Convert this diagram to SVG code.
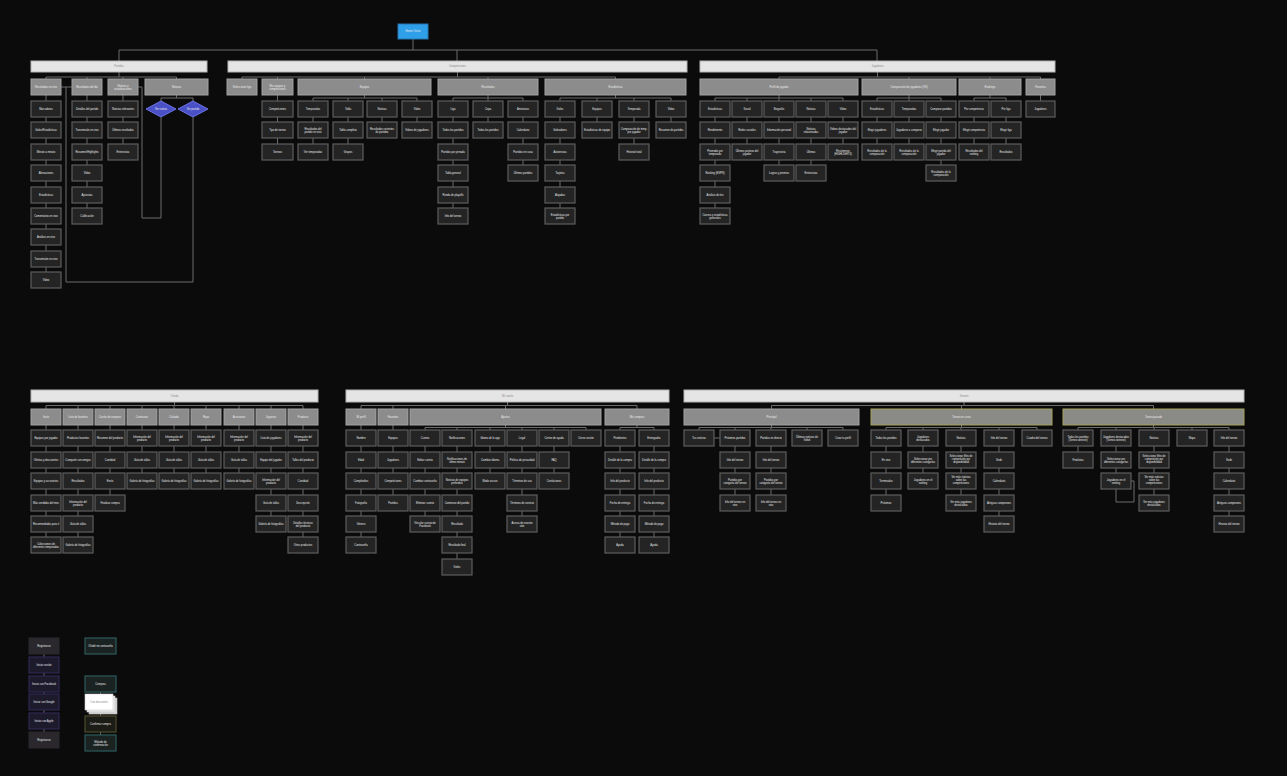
<svg xmlns="http://www.w3.org/2000/svg" width="1287" height="776" viewBox="0 0 1287 776">
<style>
.n{fill:#242424;stroke:#5e5e5e;stroke-width:1.2}
.s{fill:#8c8c8c;stroke:#a2a2a2;stroke-width:1}
.o{fill:#8a8a86;stroke:#a3a35e;stroke-width:1}
.b{fill:#e5e5e5;stroke:#b5b5b5;stroke-width:1}
.d{fill:#4a51c6;stroke:#6b71e2;stroke-width:1}
.t{font-family:"Liberation Sans",Arial,sans-serif;font-size:2.6px;fill:#ececec;text-anchor:middle}
.tb{font-family:"Liberation Sans",Arial,sans-serif;font-size:2.6px;fill:#8a8a8a;text-anchor:middle}
.c{fill:none;stroke:#6c6c6c;stroke-width:1}
.lg1{fill:#2a282c;stroke:#2a282c;stroke-width:1}
.lg2{fill:#1d1a2c;stroke:#2f2752;stroke-width:1.2}
.lt{fill:#1b2222;stroke:#2c5a5a;stroke-width:1.2}
.lo{fill:#1c1c16;stroke:#4c4c2c;stroke-width:1.2}
</style>
<rect x="0" y="0" width="1287" height="776" fill="#0b0b0b"/>
<g id="connectors">
<path class="c" d="M413 39V50M119 50H877M119 50V61M457 50V61M877 50V61"/>
<path class="c" d="M119 72V77M46 77H176.5M46 77V79M87 77V79M123 77V79M176.5 77V79M46 95V272M87 95V208M123 95V144M176.5 95V98M161 98H193M161 98V101M193 98V101M161 117V218H142V87H138M193 117V282H66V87M61 87H72"/>
<path class="c" d="M457.5 72V77M242 77H615.5M242 77V79M277.5 77V79M364.5 77V79M488 77V79M615.5 77V79M277.5 95V144M364.5 95V98M313 98H417M313 98V144M348 98V144M382 98V122M417 98V122M488 95V98M453 98H523M453 98V208M488 98V122M523 98V165M615.5 95V98M560 98H671M560 98V208M597 98V122M634 98V144M671 98V122"/>
<path class="c" d="M877.5 72V77M779 77H1040.5M779 77V79M909 77V79M990 77V79M1040.5 77V79M779 95V98M715 98H843M715 98V208M747 98V144M779 98V165M811 98V165M843 98V144M909 95V98M877 98H941M877 98V144M909 98V144M941 98V165M990 95V98M974 98H1006M974 98V144M1006 98V144M1040.5 95V101"/>
<path class="c" d="M174.5 402V405.5M46 405.5H303M46 405.5V409M78 405.5V409M110 405.5V409M142 405.5V409M174 405.5V409M206 405.5V409M239 405.5V409M271 405.5V409M303 405.5V409M46 425V537M78 425V537M110 425V495M142 425V473M174 425V473M206 425V473M239 425V473M271 425V516M303 425V537"/>
<path class="c" d="M507.5 402V405.5M361 405.5H637M361 405.5V409M393 405.5V409M505.5 405.5V409M637 405.5V409M361 425V537M393 425V495M505.5 425V427.5M425 427.5H586M425 427.5V516M457 427.5V559M490 427.5V473M522 427.5V516M554 427.5V473M586 427.5V430M637 425V427.5M620 427.5H654M620 427.5V537M654 427.5V537"/>
<path class="c" d="M964 402V405.5M771.5 405.5H1153.5M771.5 405.5V409M961.5 405.5V409M1153.5 405.5V409M771.5 425V427.5M699 427.5H843M699 427.5V430M735 427.5V495M771 427.5V495M807 427.5V430M843 427.5V430M714 438H720M961.5 425V427.5M886 427.5H1037M886 427.5V495M923 427.5V473M961 427.5V495M999 427.5V516M1037 427.5V430M1153.5 425V427.5M1078 427.5H1229M1078 427.5V452M1116 427.5V473M1154 427.5V495M1192 427.5V430M1229 427.5V516M1131 481H1134V502H1116V489"/>
<path class="c" d="M44 654V732M100.5 692V735"/>
</g>
<g id="root"><rect x="398" y="24" width="30" height="15" fill="#2f9fea" stroke="#2676b0" stroke-width="1"/><text class="t" x="413" y="32.4">Home / Inicio</text></g>
<g id="bar1"><rect class="b" x="31" y="61" width="176" height="11"/><text class="tb" x="119" y="67.4">Partidos</text></g>
<g id="bar2"><rect class="b" x="228" y="61" width="459" height="11"/><text class="tb" x="457.5" y="67.4">Competiciones</text></g>
<g id="bar3"><rect class="b" x="700" y="61" width="355" height="11"/><text class="tb" x="877.5" y="67.4">Jugadores</text></g>
<g id="s1a"><rect class="s" x="31" y="79" width="30" height="16"/><text class="t" x="46" y="88.4">Resultados en vivo</text></g>
<g id="s1b"><rect class="s" x="72" y="79" width="30" height="16"/><text class="t" x="87" y="88.4">Resultados del día</text></g>
<g id="s1c"><rect class="s" x="108" y="79" width="30" height="16"/><text class="t" x="123" y="86.9">Noticias y<tspan x="123" dy="3.2">actualizaciones</tspan></text></g>
<g id="s1d"><rect class="s" x="145" y="79" width="63" height="16"/><text class="t" x="176.5" y="88.4">Noticias</text></g>
<g id="n1a0"><rect class="n" x="31" y="101" width="30" height="16"/><text class="t" x="46" y="110.4">Marcadores</text></g>
<g id="n1a1"><rect class="n" x="31" y="122" width="30" height="16"/><text class="t" x="46" y="131.4">Goles/Estadísticas</text></g>
<g id="n1a2"><rect class="n" x="31" y="144" width="30" height="16"/><text class="t" x="46" y="153.4">Minuto a minuto</text></g>
<g id="n1a3"><rect class="n" x="31" y="165" width="30" height="16"/><text class="t" x="46" y="174.4">Alineaciones</text></g>
<g id="n1a4"><rect class="n" x="31" y="187" width="30" height="16"/><text class="t" x="46" y="196.4">Estadísticas</text></g>
<g id="n1a5"><rect class="n" x="31" y="208" width="30" height="16"/><text class="t" x="46" y="217.4">Comentarios en vivo</text></g>
<g id="n1a6"><rect class="n" x="31" y="229" width="30" height="16"/><text class="t" x="46" y="238.4">Análisis en vivo</text></g>
<g id="n1a7"><rect class="n" x="31" y="251" width="30" height="16"/><text class="t" x="46" y="260.4">Transmisión en vivo</text></g>
<g id="n1a8"><rect class="n" x="31" y="272" width="30" height="16"/><text class="t" x="46" y="281.4">Video</text></g>
<g id="n1b0"><rect class="n" x="72" y="101" width="30" height="16"/><text class="t" x="87" y="110.4">Detalles del partido</text></g>
<g id="n1b1"><rect class="n" x="72" y="122" width="30" height="16"/><text class="t" x="87" y="131.4">Transmisión en vivo</text></g>
<g id="n1b2"><rect class="n" x="72" y="144" width="30" height="16"/><text class="t" x="87" y="153.4">Resumen/Highlights</text></g>
<g id="n1b3"><rect class="n" x="72" y="165" width="30" height="16"/><text class="t" x="87" y="174.4">Video</text></g>
<g id="n1b4"><rect class="n" x="72" y="187" width="30" height="16"/><text class="t" x="87" y="196.4">Apuestas</text></g>
<g id="n1b5"><rect class="n" x="72" y="208" width="30" height="16"/><text class="t" x="87" y="217.4">Calificación</text></g>
<g id="n1c0"><rect class="n" x="108" y="101" width="30" height="16"/><text class="t" x="123" y="110.4">Noticias relevantes</text></g>
<g id="n1c1"><rect class="n" x="108" y="122" width="30" height="16"/><text class="t" x="123" y="131.4">Últimos resultados</text></g>
<g id="n1c2"><rect class="n" x="108" y="144" width="30" height="16"/><text class="t" x="123" y="153.4">Entrevistas</text></g>
<g id="d1"><polygon class="d" points="146,109 161,101 176,109 161,117"/><text class="t" x="161" y="110">Ver noticia</text></g>
<g id="d2"><polygon class="d" points="178,109 193,101 208,109 193,117"/><text class="t" x="193" y="110">Ver partido</text></g>
<g id="s2a"><rect class="s" x="227" y="79" width="30" height="16"/><text class="t" x="242" y="88.4">Seleccionar liga</text></g>
<g id="s2b"><rect class="s" x="262" y="79" width="31" height="16"/><text class="t" x="277.5" y="86.9">Mis equipos y<tspan x="277.5" dy="3.2">competiciones</tspan></text></g>
<g id="s2c"><rect class="s" x="298" y="79" width="133" height="16"/><text class="t" x="364.5" y="88.4">Equipos</text></g>
<g id="s2d"><rect class="s" x="438" y="79" width="100" height="16"/><text class="t" x="488" y="88.4">Resultados</text></g>
<g id="s2e"><rect class="s" x="545" y="79" width="141" height="16"/><text class="t" x="615.5" y="88.4">Estadísticas</text></g>
<g id="n2b0"><rect class="n" x="262" y="101" width="31" height="16"/><text class="t" x="277.5" y="110.4">Competiciones</text></g>
<g id="n2b1"><rect class="n" x="262" y="122" width="31" height="16"/><text class="t" x="277.5" y="131.4">Tipo de torneo</text></g>
<g id="n2b2"><rect class="n" x="262" y="144" width="31" height="16"/><text class="t" x="277.5" y="153.4">Torneos</text></g>
<g id="n2c00"><rect class="n" x="298" y="101" width="30" height="16"/><text class="t" x="313" y="110.4">Temporadas</text></g>
<g id="n2c01"><rect class="n" x="298" y="122" width="30" height="16"/><text class="t" x="313" y="129.9">Resultados del<tspan x="313" dy="3.2">partido en vivo</tspan></text></g>
<g id="n2c02"><rect class="n" x="298" y="144" width="30" height="16"/><text class="t" x="313" y="153.4">Ver temporadas</text></g>
<g id="n2c10"><rect class="n" x="333" y="101" width="30" height="16"/><text class="t" x="348" y="110.4">Tabla</text></g>
<g id="n2c11"><rect class="n" x="333" y="122" width="30" height="16"/><text class="t" x="348" y="131.4">Tabla completa</text></g>
<g id="n2c12"><rect class="n" x="333" y="144" width="30" height="16"/><text class="t" x="348" y="153.4">Grupos</text></g>
<g id="n2c20"><rect class="n" x="367" y="101" width="30" height="16"/><text class="t" x="382" y="110.4">Noticias</text></g>
<g id="n2c21"><rect class="n" x="367" y="122" width="30" height="16"/><text class="t" x="382" y="129.9">Resultados recientes<tspan x="382" dy="3.2">de partidos</tspan></text></g>
<g id="n2c30"><rect class="n" x="402" y="101" width="30" height="16"/><text class="t" x="417" y="110.4">Video</text></g>
<g id="n2c31"><rect class="n" x="402" y="122" width="30" height="16"/><text class="t" x="417" y="131.4">Videos de jugadores</text></g>
<g id="n2d00"><rect class="n" x="438" y="101" width="30" height="16"/><text class="t" x="453" y="110.4">Liga</text></g>
<g id="n2d01"><rect class="n" x="438" y="122" width="30" height="16"/><text class="t" x="453" y="131.4">Todos los partidos</text></g>
<g id="n2d02"><rect class="n" x="438" y="144" width="30" height="16"/><text class="t" x="453" y="153.4">Partidos por jornada</text></g>
<g id="n2d03"><rect class="n" x="438" y="165" width="30" height="16"/><text class="t" x="453" y="174.4">Tabla general</text></g>
<g id="n2d04"><rect class="n" x="438" y="187" width="30" height="16"/><text class="t" x="453" y="196.4">Ronda de playoffs</text></g>
<g id="n2d05"><rect class="n" x="438" y="208" width="30" height="16"/><text class="t" x="453" y="217.4">Info del torneo</text></g>
<g id="n2d10"><rect class="n" x="473" y="101" width="30" height="16"/><text class="t" x="488" y="110.4">Copa</text></g>
<g id="n2d11"><rect class="n" x="473" y="122" width="30" height="16"/><text class="t" x="488" y="131.4">Todos los partidos</text></g>
<g id="n2d20"><rect class="n" x="508" y="101" width="30" height="16"/><text class="t" x="523" y="110.4">Amistosos</text></g>
<g id="n2d21"><rect class="n" x="508" y="122" width="30" height="16"/><text class="t" x="523" y="131.4">Calendario</text></g>
<g id="n2d22"><rect class="n" x="508" y="144" width="30" height="16"/><text class="t" x="523" y="153.4">Partidos en casa</text></g>
<g id="n2d23"><rect class="n" x="508" y="165" width="30" height="16"/><text class="t" x="523" y="174.4">Últimos partidos</text></g>
<g id="n2e00"><rect class="n" x="545" y="101" width="30" height="16"/><text class="t" x="560" y="110.4">Goles</text></g>
<g id="n2e01"><rect class="n" x="545" y="122" width="30" height="16"/><text class="t" x="560" y="131.4">Goleadores</text></g>
<g id="n2e02"><rect class="n" x="545" y="144" width="30" height="16"/><text class="t" x="560" y="153.4">Asistencias</text></g>
<g id="n2e03"><rect class="n" x="545" y="165" width="30" height="16"/><text class="t" x="560" y="174.4">Tarjetas</text></g>
<g id="n2e04"><rect class="n" x="545" y="187" width="30" height="16"/><text class="t" x="560" y="196.4">Atajadas</text></g>
<g id="n2e05"><rect class="n" x="545" y="208" width="30" height="16"/><text class="t" x="560" y="215.9">Estadísticas por<tspan x="560" dy="3.2">partido</tspan></text></g>
<g id="n2e10"><rect class="n" x="582" y="101" width="30" height="16"/><text class="t" x="597" y="110.4">Equipos</text></g>
<g id="n2e11"><rect class="n" x="582" y="122" width="30" height="16"/><text class="t" x="597" y="131.4">Estadísticas de equipo</text></g>
<g id="n2e20"><rect class="n" x="619" y="101" width="30" height="16"/><text class="t" x="634" y="110.4">Temporada</text></g>
<g id="n2e21"><rect class="n" x="619" y="122" width="30" height="16"/><text class="t" x="634" y="129.9">Comparación de temp.<tspan x="634" dy="3.2">por jugador</tspan></text></g>
<g id="n2e22"><rect class="n" x="619" y="144" width="30" height="16"/><text class="t" x="634" y="153.4">Historial total</text></g>
<g id="n2e30"><rect class="n" x="656" y="101" width="30" height="16"/><text class="t" x="671" y="110.4">Video</text></g>
<g id="n2e31"><rect class="n" x="656" y="122" width="30" height="16"/><text class="t" x="671" y="131.4">Resumen de partidos</text></g>
<g id="s3a"><rect class="s" x="700" y="79" width="158" height="16"/><text class="t" x="779" y="88.4">Perfil de jugador</text></g>
<g id="s3b"><rect class="s" x="862" y="79" width="94" height="16"/><text class="t" x="909" y="88.4">Comparación de jugadores (VS)</text></g>
<g id="s3c"><rect class="s" x="959" y="79" width="62" height="16"/><text class="t" x="990" y="88.4">Rankings</text></g>
<g id="s3d"><rect class="s" x="1026" y="79" width="29" height="16"/><text class="t" x="1040.5" y="88.4">Favoritos</text></g>
<g id="n3a00"><rect class="n" x="700" y="101" width="30" height="16"/><text class="t" x="715" y="110.4">Estadísticas</text></g>
<g id="n3a01"><rect class="n" x="700" y="122" width="30" height="16"/><text class="t" x="715" y="131.4">Rendimiento</text></g>
<g id="n3a02"><rect class="n" x="700" y="144" width="30" height="16"/><text class="t" x="715" y="151.9">Promedio por<tspan x="715" dy="3.2">temporada</tspan></text></g>
<g id="n3a03"><rect class="n" x="700" y="165" width="30" height="16"/><text class="t" x="715" y="174.4">Ranking (ESPN)</text></g>
<g id="n3a04"><rect class="n" x="700" y="187" width="30" height="16"/><text class="t" x="715" y="196.4">Análisis de tiro</text></g>
<g id="n3a05"><rect class="n" x="700" y="208" width="30" height="16"/><text class="t" x="715" y="215.9">Carrera y estadísticas<tspan x="715" dy="3.2">generales</tspan></text></g>
<g id="n3a10"><rect class="n" x="732" y="101" width="30" height="16"/><text class="t" x="747" y="110.4">Social</text></g>
<g id="n3a11"><rect class="n" x="732" y="122" width="30" height="16"/><text class="t" x="747" y="131.4">Redes sociales</text></g>
<g id="n3a12"><rect class="n" x="732" y="144" width="30" height="16"/><text class="t" x="747" y="151.9">Últimos posteos del<tspan x="747" dy="3.2">jugador</tspan></text></g>
<g id="n3a20"><rect class="n" x="764" y="101" width="30" height="16"/><text class="t" x="779" y="110.4">Biografía</text></g>
<g id="n3a21"><rect class="n" x="764" y="122" width="30" height="16"/><text class="t" x="779" y="131.4">Información personal</text></g>
<g id="n3a22"><rect class="n" x="764" y="144" width="30" height="16"/><text class="t" x="779" y="153.4">Trayectoria</text></g>
<g id="n3a23"><rect class="n" x="764" y="165" width="30" height="16"/><text class="t" x="779" y="174.4">Logros y premios</text></g>
<g id="n3a30"><rect class="n" x="796" y="101" width="30" height="16"/><text class="t" x="811" y="110.4">Noticias</text></g>
<g id="n3a31"><rect class="n" x="796" y="122" width="30" height="16"/><text class="t" x="811" y="129.9">Noticias<tspan x="811" dy="3.2">relacionadas</tspan></text></g>
<g id="n3a32"><rect class="n" x="796" y="144" width="30" height="16"/><text class="t" x="811" y="153.4">Últimas</text></g>
<g id="n3a33"><rect class="n" x="796" y="165" width="30" height="16"/><text class="t" x="811" y="174.4">Entrevistas</text></g>
<g id="n3a40"><rect class="n" x="828" y="101" width="30" height="16"/><text class="t" x="843" y="110.4">Video</text></g>
<g id="n3a41"><rect class="n" x="828" y="122" width="30" height="16"/><text class="t" x="843" y="129.9">Videos destacados del<tspan x="843" dy="3.2">jugador</tspan></text></g>
<g id="n3a42"><rect class="n" x="828" y="144" width="30" height="16"/><text class="t" x="843" y="151.9">Resúmenes<tspan x="843" dy="3.2">(HIGHLIGHTS)</tspan></text></g>
<g id="n3b00"><rect class="n" x="862" y="101" width="30" height="16"/><text class="t" x="877" y="110.4">Estadísticas</text></g>
<g id="n3b01"><rect class="n" x="862" y="122" width="30" height="16"/><text class="t" x="877" y="131.4">Elegir jugadores</text></g>
<g id="n3b02"><rect class="n" x="862" y="144" width="30" height="16"/><text class="t" x="877" y="151.9">Resultados de la<tspan x="877" dy="3.2">comparación</tspan></text></g>
<g id="n3b10"><rect class="n" x="894" y="101" width="30" height="16"/><text class="t" x="909" y="110.4">Temporadas</text></g>
<g id="n3b11"><rect class="n" x="894" y="122" width="30" height="16"/><text class="t" x="909" y="131.4">Jugadores a comparar</text></g>
<g id="n3b12"><rect class="n" x="894" y="144" width="30" height="16"/><text class="t" x="909" y="151.9">Resultados de la<tspan x="909" dy="3.2">comparación</tspan></text></g>
<g id="n3b20"><rect class="n" x="926" y="101" width="30" height="16"/><text class="t" x="941" y="110.4">Comparar partidos</text></g>
<g id="n3b21"><rect class="n" x="926" y="122" width="30" height="16"/><text class="t" x="941" y="131.4">Elegir jugador</text></g>
<g id="n3b22"><rect class="n" x="926" y="144" width="30" height="16"/><text class="t" x="941" y="151.9">Elegir partido del<tspan x="941" dy="3.2">jugador</tspan></text></g>
<g id="n3b23"><rect class="n" x="926" y="165" width="30" height="16"/><text class="t" x="941" y="172.9">Resultados de la<tspan x="941" dy="3.2">comparación</tspan></text></g>
<g id="n3c00"><rect class="n" x="959" y="101" width="30" height="16"/><text class="t" x="974" y="110.4">Por competencia</text></g>
<g id="n3c01"><rect class="n" x="959" y="122" width="30" height="16"/><text class="t" x="974" y="131.4">Elegir competencia</text></g>
<g id="n3c02"><rect class="n" x="959" y="144" width="30" height="16"/><text class="t" x="974" y="151.9">Resultados del<tspan x="974" dy="3.2">ranking</tspan></text></g>
<g id="n3c10"><rect class="n" x="991" y="101" width="30" height="16"/><text class="t" x="1006" y="110.4">Por liga</text></g>
<g id="n3c11"><rect class="n" x="991" y="122" width="30" height="16"/><text class="t" x="1006" y="131.4">Elegir liga</text></g>
<g id="n3c12"><rect class="n" x="991" y="144" width="30" height="16"/><text class="t" x="1006" y="153.4">Resultados</text></g>
<g id="n3d0"><rect class="n" x="1026" y="101" width="29" height="16"/><text class="t" x="1040.5" y="110.4">Jugadores</text></g>
<g id="bar4"><rect class="b" x="31" y="390" width="287" height="12"/><text class="tb" x="174.5" y="397">Tienda</text></g>
<g id="bar5"><rect class="b" x="346" y="390" width="323" height="12"/><text class="tb" x="507.5" y="397">Mi cuenta</text></g>
<g id="bar6"><rect class="b" x="684" y="390" width="560" height="12"/><text class="tb" x="964" y="397">Torneos</text></g>
<g id="s4a"><rect class="s" x="31" y="409" width="30" height="16"/><text class="t" x="46" y="418.4">Inicio</text></g>
<g id="s4b"><rect class="s" x="63" y="409" width="30" height="16"/><text class="t" x="78" y="418.4">Lista de favoritos</text></g>
<g id="s4c"><rect class="s" x="95" y="409" width="30" height="16"/><text class="t" x="110" y="418.4">Carrito de compras</text></g>
<g id="s4d"><rect class="s" x="127" y="409" width="30" height="16"/><text class="t" x="142" y="418.4">Camisetas</text></g>
<g id="s4e"><rect class="s" x="159" y="409" width="30" height="16"/><text class="t" x="174" y="418.4">Calzado</text></g>
<g id="s4f"><rect class="s" x="191" y="409" width="30" height="16"/><text class="t" x="206" y="418.4">Ropa</text></g>
<g id="s4g"><rect class="s" x="224" y="409" width="30" height="16"/><text class="t" x="239" y="418.4">Accesorios</text></g>
<g id="s4h"><rect class="s" x="256" y="409" width="30" height="16"/><text class="t" x="271" y="418.4">Juguetes</text></g>
<g id="s4i"><rect class="s" x="288" y="409" width="30" height="16"/><text class="t" x="303" y="418.4">Producto</text></g>
<g id="n4a0"><rect class="n" x="31" y="430" width="30" height="16"/><text class="t" x="46" y="439.4">Equipos por jugador</text></g>
<g id="n4a1"><rect class="n" x="31" y="452" width="30" height="16"/><text class="t" x="46" y="461.4">Ofertas y descuentos</text></g>
<g id="n4a2"><rect class="n" x="31" y="473" width="30" height="16"/><text class="t" x="46" y="482.4">Equipos y accesorios</text></g>
<g id="n4a3"><rect class="n" x="31" y="495" width="30" height="16"/><text class="t" x="46" y="504.4">Más vendidos del mes</text></g>
<g id="n4a4"><rect class="n" x="31" y="516" width="30" height="16"/><text class="t" x="46" y="525.4">Recomendados para ti</text></g>
<g id="n4a5"><rect class="n" x="31" y="537" width="30" height="16"/><text class="t" x="46" y="544.9">Colecciones de<tspan x="46" dy="3.2">diferentes temporadas</tspan></text></g>
<g id="n4b0"><rect class="n" x="63" y="430" width="30" height="16"/><text class="t" x="78" y="439.4">Productos favoritos</text></g>
<g id="n4b1"><rect class="n" x="63" y="452" width="30" height="16"/><text class="t" x="78" y="461.4">Compartir con amigos</text></g>
<g id="n4b2"><rect class="n" x="63" y="473" width="30" height="16"/><text class="t" x="78" y="482.4">Resultados</text></g>
<g id="n4b3"><rect class="n" x="63" y="495" width="30" height="16"/><text class="t" x="78" y="502.9">Información del<tspan x="78" dy="3.2">producto</tspan></text></g>
<g id="n4b4"><rect class="n" x="63" y="516" width="30" height="16"/><text class="t" x="78" y="525.4">Guía de tallas</text></g>
<g id="n4b5"><rect class="n" x="63" y="537" width="30" height="16"/><text class="t" x="78" y="546.4">Galería de fotografías</text></g>
<g id="n4c0"><rect class="n" x="95" y="430" width="30" height="16"/><text class="t" x="110" y="439.4">Resumen del producto</text></g>
<g id="n4c1"><rect class="n" x="95" y="452" width="30" height="16"/><text class="t" x="110" y="461.4">Cantidad</text></g>
<g id="n4c2"><rect class="n" x="95" y="473" width="30" height="16"/><text class="t" x="110" y="482.4">Envío</text></g>
<g id="n4c3"><rect class="n" x="95" y="495" width="30" height="16"/><text class="t" x="110" y="504.4">Finalizar compra</text></g>
<g id="n4d0"><rect class="n" x="127" y="430" width="30" height="16"/><text class="t" x="142" y="437.9">Información del<tspan x="142" dy="3.2">producto</tspan></text></g>
<g id="n4d1"><rect class="n" x="127" y="452" width="30" height="16"/><text class="t" x="142" y="461.4">Guía de tallas</text></g>
<g id="n4d2"><rect class="n" x="127" y="473" width="30" height="16"/><text class="t" x="142" y="482.4">Galería de fotografías</text></g>
<g id="n4e0"><rect class="n" x="159" y="430" width="30" height="16"/><text class="t" x="174" y="437.9">Información del<tspan x="174" dy="3.2">producto</tspan></text></g>
<g id="n4e1"><rect class="n" x="159" y="452" width="30" height="16"/><text class="t" x="174" y="461.4">Guía de tallas</text></g>
<g id="n4e2"><rect class="n" x="159" y="473" width="30" height="16"/><text class="t" x="174" y="482.4">Galería de fotografías</text></g>
<g id="n4f0"><rect class="n" x="191" y="430" width="30" height="16"/><text class="t" x="206" y="437.9">Información del<tspan x="206" dy="3.2">producto</tspan></text></g>
<g id="n4f1"><rect class="n" x="191" y="452" width="30" height="16"/><text class="t" x="206" y="461.4">Guía de tallas</text></g>
<g id="n4f2"><rect class="n" x="191" y="473" width="30" height="16"/><text class="t" x="206" y="482.4">Galería de fotografías</text></g>
<g id="n4g0"><rect class="n" x="224" y="430" width="30" height="16"/><text class="t" x="239" y="437.9">Información del<tspan x="239" dy="3.2">producto</tspan></text></g>
<g id="n4g1"><rect class="n" x="224" y="452" width="30" height="16"/><text class="t" x="239" y="461.4">Guía de tallas</text></g>
<g id="n4g2"><rect class="n" x="224" y="473" width="30" height="16"/><text class="t" x="239" y="482.4">Galería de fotografías</text></g>
<g id="n4h0"><rect class="n" x="256" y="430" width="30" height="16"/><text class="t" x="271" y="439.4">Lista de jugadores</text></g>
<g id="n4h1"><rect class="n" x="256" y="452" width="30" height="16"/><text class="t" x="271" y="461.4">Equipo del jugador</text></g>
<g id="n4h2"><rect class="n" x="256" y="473" width="30" height="16"/><text class="t" x="271" y="480.9">Información del<tspan x="271" dy="3.2">producto</tspan></text></g>
<g id="n4h3"><rect class="n" x="256" y="495" width="30" height="16"/><text class="t" x="271" y="504.4">Guía de tallas</text></g>
<g id="n4h4"><rect class="n" x="256" y="516" width="30" height="16"/><text class="t" x="271" y="525.4">Galería de fotografías</text></g>
<g id="n4i0"><rect class="n" x="288" y="430" width="30" height="16"/><text class="t" x="303" y="437.9">Información del<tspan x="303" dy="3.2">producto</tspan></text></g>
<g id="n4i1"><rect class="n" x="288" y="452" width="30" height="16"/><text class="t" x="303" y="461.4">Talles del producto</text></g>
<g id="n4i2"><rect class="n" x="288" y="473" width="30" height="16"/><text class="t" x="303" y="482.4">Cantidad</text></g>
<g id="n4i3"><rect class="n" x="288" y="495" width="30" height="16"/><text class="t" x="303" y="504.4">Descripción</text></g>
<g id="n4i4"><rect class="n" x="288" y="516" width="30" height="16"/><text class="t" x="303" y="523.9">Detalles técnicos<tspan x="303" dy="3.2">del producto</tspan></text></g>
<g id="n4i5"><rect class="n" x="288" y="537" width="30" height="16"/><text class="t" x="303" y="546.4">Otros productos</text></g>
<g id="s5a"><rect class="s" x="346" y="409" width="30" height="16"/><text class="t" x="361" y="418.4">Mi perfil</text></g>
<g id="s5b"><rect class="s" x="378" y="409" width="30" height="16"/><text class="t" x="393" y="418.4">Favoritos</text></g>
<g id="s5c"><rect class="s" x="410" y="409" width="191" height="16"/><text class="t" x="505.5" y="418.4">Ajustes</text></g>
<g id="s5d"><rect class="s" x="605" y="409" width="64" height="16"/><text class="t" x="637" y="418.4">Mis compras</text></g>
<g id="n5a0"><rect class="n" x="346" y="430" width="30" height="16"/><text class="t" x="361" y="439.4">Nombre</text></g>
<g id="n5a1"><rect class="n" x="346" y="452" width="30" height="16"/><text class="t" x="361" y="461.4">Edad</text></g>
<g id="n5a2"><rect class="n" x="346" y="473" width="30" height="16"/><text class="t" x="361" y="482.4">Cumpleaños</text></g>
<g id="n5a3"><rect class="n" x="346" y="495" width="30" height="16"/><text class="t" x="361" y="504.4">Fotografía</text></g>
<g id="n5a4"><rect class="n" x="346" y="516" width="30" height="16"/><text class="t" x="361" y="525.4">Género</text></g>
<g id="n5a5"><rect class="n" x="346" y="537" width="30" height="16"/><text class="t" x="361" y="546.4">Contraseña</text></g>
<g id="n5b0"><rect class="n" x="378" y="430" width="30" height="16"/><text class="t" x="393" y="439.4">Equipos</text></g>
<g id="n5b1"><rect class="n" x="378" y="452" width="30" height="16"/><text class="t" x="393" y="461.4">Jugadores</text></g>
<g id="n5b2"><rect class="n" x="378" y="473" width="30" height="16"/><text class="t" x="393" y="482.4">Competiciones</text></g>
<g id="n5b3"><rect class="n" x="378" y="495" width="30" height="16"/><text class="t" x="393" y="504.4">Partidos</text></g>
<g id="n5c00"><rect class="n" x="410" y="430" width="30" height="16"/><text class="t" x="425" y="439.4">Cuenta</text></g>
<g id="n5c01"><rect class="n" x="410" y="452" width="30" height="16"/><text class="t" x="425" y="461.4">Editar cuenta</text></g>
<g id="n5c02"><rect class="n" x="410" y="473" width="30" height="16"/><text class="t" x="425" y="482.4">Cambiar contraseña</text></g>
<g id="n5c03"><rect class="n" x="410" y="495" width="30" height="16"/><text class="t" x="425" y="504.4">Eliminar cuenta</text></g>
<g id="n5c04"><rect class="n" x="410" y="516" width="30" height="16"/><text class="t" x="425" y="523.9">Vincular cuenta de<tspan x="425" dy="3.2">Facebook</tspan></text></g>
<g id="n5c10"><rect class="n" x="442" y="430" width="30" height="16"/><text class="t" x="457" y="439.4">Notificaciones</text></g>
<g id="n5c11"><rect class="n" x="442" y="452" width="30" height="16"/><text class="t" x="457" y="459.9">Notificaciones de<tspan x="457" dy="3.2">último minuto</tspan></text></g>
<g id="n5c12"><rect class="n" x="442" y="473" width="30" height="16"/><text class="t" x="457" y="480.9">Noticias de equipos<tspan x="457" dy="3.2">preferidos</tspan></text></g>
<g id="n5c13"><rect class="n" x="442" y="495" width="30" height="16"/><text class="t" x="457" y="504.4">Comienzo del partido</text></g>
<g id="n5c14"><rect class="n" x="442" y="516" width="30" height="16"/><text class="t" x="457" y="525.4">Resultado</text></g>
<g id="n5c15"><rect class="n" x="442" y="537" width="30" height="16"/><text class="t" x="457" y="546.4">Resultado final</text></g>
<g id="n5c16"><rect class="n" x="442" y="559" width="30" height="16"/><text class="t" x="457" y="568.4">Goles</text></g>
<g id="n5c20"><rect class="n" x="475" y="430" width="30" height="16"/><text class="t" x="490" y="439.4">Idioma de la app</text></g>
<g id="n5c21"><rect class="n" x="475" y="452" width="30" height="16"/><text class="t" x="490" y="461.4">Cambiar idioma</text></g>
<g id="n5c22"><rect class="n" x="475" y="473" width="30" height="16"/><text class="t" x="490" y="482.4">Modo oscuro</text></g>
<g id="n5c30"><rect class="n" x="507" y="430" width="30" height="16"/><text class="t" x="522" y="439.4">Legal</text></g>
<g id="n5c31"><rect class="n" x="507" y="452" width="30" height="16"/><text class="t" x="522" y="461.4">Política de privacidad</text></g>
<g id="n5c32"><rect class="n" x="507" y="473" width="30" height="16"/><text class="t" x="522" y="482.4">Términos de uso</text></g>
<g id="n5c33"><rect class="n" x="507" y="495" width="30" height="16"/><text class="t" x="522" y="504.4">Términos de servicio</text></g>
<g id="n5c34"><rect class="n" x="507" y="516" width="30" height="16"/><text class="t" x="522" y="523.9">Acerca de nuestro<tspan x="522" dy="3.2">sitio</tspan></text></g>
<g id="n5c40"><rect class="n" x="539" y="430" width="30" height="16"/><text class="t" x="554" y="439.4">Centro de ayuda</text></g>
<g id="n5c41"><rect class="n" x="539" y="452" width="30" height="16"/><text class="t" x="554" y="461.4">FAQ</text></g>
<g id="n5c42"><rect class="n" x="539" y="473" width="30" height="16"/><text class="t" x="554" y="482.4">Contáctanos</text></g>
<g id="n5c50"><rect class="n" x="571" y="430" width="30" height="16"/><text class="t" x="586" y="439.4">Cerrar sesión</text></g>
<g id="n5d00"><rect class="n" x="605" y="430" width="30" height="16"/><text class="t" x="620" y="439.4">Pendientes</text></g>
<g id="n5d01"><rect class="n" x="605" y="452" width="30" height="16"/><text class="t" x="620" y="461.4">Detalle de la compra</text></g>
<g id="n5d02"><rect class="n" x="605" y="473" width="30" height="16"/><text class="t" x="620" y="482.4">Info del producto</text></g>
<g id="n5d03"><rect class="n" x="605" y="495" width="30" height="16"/><text class="t" x="620" y="504.4">Fecha de entrega</text></g>
<g id="n5d04"><rect class="n" x="605" y="516" width="30" height="16"/><text class="t" x="620" y="525.4">Método de pago</text></g>
<g id="n5d05"><rect class="n" x="605" y="537" width="30" height="16"/><text class="t" x="620" y="546.4">Ayuda</text></g>
<g id="n5d10"><rect class="n" x="639" y="430" width="30" height="16"/><text class="t" x="654" y="439.4">Entregados</text></g>
<g id="n5d11"><rect class="n" x="639" y="452" width="30" height="16"/><text class="t" x="654" y="461.4">Detalle de la compra</text></g>
<g id="n5d12"><rect class="n" x="639" y="473" width="30" height="16"/><text class="t" x="654" y="482.4">Info del producto</text></g>
<g id="n5d13"><rect class="n" x="639" y="495" width="30" height="16"/><text class="t" x="654" y="504.4">Fecha de entrega</text></g>
<g id="n5d14"><rect class="n" x="639" y="516" width="30" height="16"/><text class="t" x="654" y="525.4">Método de pago</text></g>
<g id="n5d15"><rect class="n" x="639" y="537" width="30" height="16"/><text class="t" x="654" y="546.4">Ayuda</text></g>
<g id="s6a"><rect class="s" x="684" y="409" width="175" height="16"/><text class="t" x="771.5" y="418.4">Principal</text></g>
<g id="s6b"><rect class="o" x="871" y="409" width="181" height="16"/><text class="t" x="961.5" y="418.4">Torneo en curso</text></g>
<g id="s6c"><rect class="o" x="1063" y="409" width="181" height="16"/><text class="t" x="1153.5" y="418.4">Torneo pasado</text></g>
<g id="n6a0"><rect class="n" x="684" y="430" width="30" height="16"/><text class="t" x="699" y="439.4">Tus noticias</text></g>
<g id="n6b0"><rect class="n" x="720" y="430" width="30" height="16"/><text class="t" x="735" y="439.4">Próximos partidos</text></g>
<g id="n6b1"><rect class="n" x="720" y="452" width="30" height="16"/><text class="t" x="735" y="461.4">Info del torneo</text></g>
<g id="n6b2"><rect class="n" x="720" y="473" width="30" height="16"/><text class="t" x="735" y="480.9">Partidos por<tspan x="735" dy="3.2">categoría del torneo</tspan></text></g>
<g id="n6b3"><rect class="n" x="720" y="495" width="30" height="16"/><text class="t" x="735" y="502.9">Info del torneo en<tspan x="735" dy="3.2">vivo</tspan></text></g>
<g id="n6c0"><rect class="n" x="756" y="430" width="30" height="16"/><text class="t" x="771" y="439.4">Partidos en directo</text></g>
<g id="n6c1"><rect class="n" x="756" y="452" width="30" height="16"/><text class="t" x="771" y="461.4">Info del torneo</text></g>
<g id="n6c2"><rect class="n" x="756" y="473" width="30" height="16"/><text class="t" x="771" y="480.9">Partidos por<tspan x="771" dy="3.2">categoría del torneo</tspan></text></g>
<g id="n6c3"><rect class="n" x="756" y="495" width="30" height="16"/><text class="t" x="771" y="502.9">Info del torneo en<tspan x="771" dy="3.2">vivo</tspan></text></g>
<g id="n6d0"><rect class="n" x="792" y="430" width="30" height="16"/><text class="t" x="807" y="437.9">Últimas noticias de<tspan x="807" dy="3.2">fútbol</tspan></text></g>
<g id="n6e0"><rect class="n" x="828" y="430" width="30" height="16"/><text class="t" x="843" y="439.4">Crear tu perfil</text></g>
<g id="n7a0"><rect class="n" x="871" y="430" width="30" height="16"/><text class="t" x="886" y="439.4">Todos los partidos</text></g>
<g id="n7a1"><rect class="n" x="871" y="452" width="30" height="16"/><text class="t" x="886" y="461.4">En vivo</text></g>
<g id="n7a2"><rect class="n" x="871" y="473" width="30" height="16"/><text class="t" x="886" y="482.4">Terminados</text></g>
<g id="n7a3"><rect class="n" x="871" y="495" width="30" height="16"/><text class="t" x="886" y="504.4">Próximos</text></g>
<g id="n7b0"><rect class="n" x="908" y="430" width="30" height="16"/><text class="t" x="923" y="437.9">Jugadores<tspan x="923" dy="3.2">destacados</tspan></text></g>
<g id="n7b1"><rect class="n" x="908" y="452" width="30" height="16"/><text class="t" x="923" y="459.9">Seleccionar por<tspan x="923" dy="3.2">diferentes categorías</tspan></text></g>
<g id="n7b2"><rect class="n" x="908" y="473" width="30" height="16"/><text class="t" x="923" y="480.9">Jugadores en el<tspan x="923" dy="3.2">ranking</tspan></text></g>
<g id="n7c0"><rect class="n" x="946" y="430" width="30" height="16"/><text class="t" x="961" y="439.4">Noticias</text></g>
<g id="n7c1"><rect class="n" x="946" y="452" width="30" height="16"/><text class="t" x="961" y="456.8">Seleccionar filtro de<tspan x="961" dy="3.2">competición por</tspan><tspan x="961" dy="3.2">disponibilidad</tspan></text></g>
<g id="n7c2"><rect class="n" x="946" y="473" width="30" height="16"/><text class="t" x="961" y="477.8">Ver más noticias<tspan x="961" dy="3.2">sobre las</tspan><tspan x="961" dy="3.2">competiciones</tspan></text></g>
<g id="n7c3"><rect class="n" x="946" y="495" width="30" height="16"/><text class="t" x="961" y="502.9">Ver más jugadores<tspan x="961" dy="3.2">destacados</tspan></text></g>
<g id="n7d0"><rect class="n" x="984" y="430" width="30" height="16"/><text class="t" x="999" y="439.4">Info del torneo</text></g>
<g id="n7d1"><rect class="n" x="984" y="452" width="30" height="16"/><text class="t" x="999" y="461.4">Sede</text></g>
<g id="n7d2"><rect class="n" x="984" y="473" width="30" height="16"/><text class="t" x="999" y="482.4">Calendario</text></g>
<g id="n7d3"><rect class="n" x="984" y="495" width="30" height="16"/><text class="t" x="999" y="504.4">Antiguos campeones</text></g>
<g id="n7d4"><rect class="n" x="984" y="516" width="30" height="16"/><text class="t" x="999" y="525.4">Historia del torneo</text></g>
<g id="n7e0"><rect class="n" x="1022" y="430" width="30" height="16"/><text class="t" x="1037" y="439.4">Cuadro del torneo</text></g>
<g id="n8a0"><rect class="n" x="1063" y="430" width="30" height="16"/><text class="t" x="1078" y="437.9">Todos los partidos<tspan x="1078" dy="3.2">(Torneo anterior)</tspan></text></g>
<g id="n8a1"><rect class="n" x="1063" y="452" width="30" height="16"/><text class="t" x="1078" y="461.4">Finalistas</text></g>
<g id="n8b0"><rect class="n" x="1101" y="430" width="30" height="16"/><text class="t" x="1116" y="437.9">Jugadores destacados<tspan x="1116" dy="3.2">(Torneo anterior)</tspan></text></g>
<g id="n8b1"><rect class="n" x="1101" y="452" width="30" height="16"/><text class="t" x="1116" y="459.9">Seleccionar por<tspan x="1116" dy="3.2">diferentes categorías</tspan></text></g>
<g id="n8b2"><rect class="n" x="1101" y="473" width="30" height="16"/><text class="t" x="1116" y="480.9">Jugadores en el<tspan x="1116" dy="3.2">ranking</tspan></text></g>
<g id="n8c0"><rect class="n" x="1139" y="430" width="30" height="16"/><text class="t" x="1154" y="439.4">Noticias</text></g>
<g id="n8c1"><rect class="n" x="1139" y="452" width="30" height="16"/><text class="t" x="1154" y="456.8">Seleccionar filtro de<tspan x="1154" dy="3.2">competición por</tspan><tspan x="1154" dy="3.2">disponibilidad</tspan></text></g>
<g id="n8c2"><rect class="n" x="1139" y="473" width="30" height="16"/><text class="t" x="1154" y="477.8">Ver más noticias<tspan x="1154" dy="3.2">sobre las</tspan><tspan x="1154" dy="3.2">competiciones</tspan></text></g>
<g id="n8c3"><rect class="n" x="1139" y="495" width="30" height="16"/><text class="t" x="1154" y="502.9">Ver más jugadores<tspan x="1154" dy="3.2">destacados</tspan></text></g>
<g id="n8d0"><rect class="n" x="1177" y="430" width="30" height="16"/><text class="t" x="1192" y="439.4">Mapa</text></g>
<g id="n8e0"><rect class="n" x="1214" y="430" width="30" height="16"/><text class="t" x="1229" y="439.4">Info del torneo</text></g>
<g id="n8e1"><rect class="n" x="1214" y="452" width="30" height="16"/><text class="t" x="1229" y="461.4">Sede</text></g>
<g id="n8e2"><rect class="n" x="1214" y="473" width="30" height="16"/><text class="t" x="1229" y="482.4">Calendario</text></g>
<g id="n8e3"><rect class="n" x="1214" y="495" width="30" height="16"/><text class="t" x="1229" y="504.4">Antiguos campeones</text></g>
<g id="n8e4"><rect class="n" x="1214" y="516" width="30" height="16"/><text class="t" x="1229" y="525.4">Historia del torneo</text></g>
<g id="l1"><rect class="lg1" x="29" y="638" width="30" height="16"/><text class="t" x="44" y="647.4">Registrarse</text></g>
<g id="l2"><rect class="lg2" x="29" y="657" width="30" height="16"/><text class="t" x="44" y="666.4">Iniciar sesión</text></g>
<g id="l3"><rect class="lg2" x="29" y="676" width="30" height="16"/><text class="t" x="44" y="685.4">Iniciar con Facebook</text></g>
<g id="l4"><rect class="lg2" x="29" y="694" width="30" height="16"/><text class="t" x="44" y="703.4">Iniciar con Google</text></g>
<g id="l5"><rect class="lg2" x="29" y="713" width="30" height="16"/><text class="t" x="44" y="722.4">Iniciar con Apple</text></g>
<g id="l6"><rect class="lg1" x="29" y="732" width="30" height="16"/><text class="t" x="44" y="741.4">Registrarse</text></g>
<g id="r1"><rect class="lt" x="85" y="638" width="31" height="16"/><text class="t" x="100.5" y="647.4">Olvidé mi contraseña</text></g>
<g id="r2"><rect class="lt" x="85" y="676" width="31" height="16"/><text class="t" x="100.5" y="685.4">Compras</text></g>
<g id="r3"><rect x="89" y="698" width="28" height="16" fill="#d8d8d8" stroke="#bcbcbc" stroke-width="0.6"/><rect x="87" y="696" width="28" height="16" fill="#ebebeb" stroke="#c4c4c4" stroke-width="0.6"/><rect x="85" y="694" width="28" height="16" fill="#ffffff" stroke="#cfcfcf" stroke-width="0.6"/><text class="tb" x="99" y="703.4">Con descuento</text></g>
<g id="r4"><rect class="lo" x="85" y="716" width="31" height="16"/><text class="t" x="100.5" y="725.4">Confirmar compra</text></g>
<g id="r5"><rect class="lt" x="85" y="735" width="31" height="16"/><text class="t" x="100.5" y="742.9">Método de<tspan x="100.5" dy="3.2">confirmación</tspan></text></g>
</svg>
